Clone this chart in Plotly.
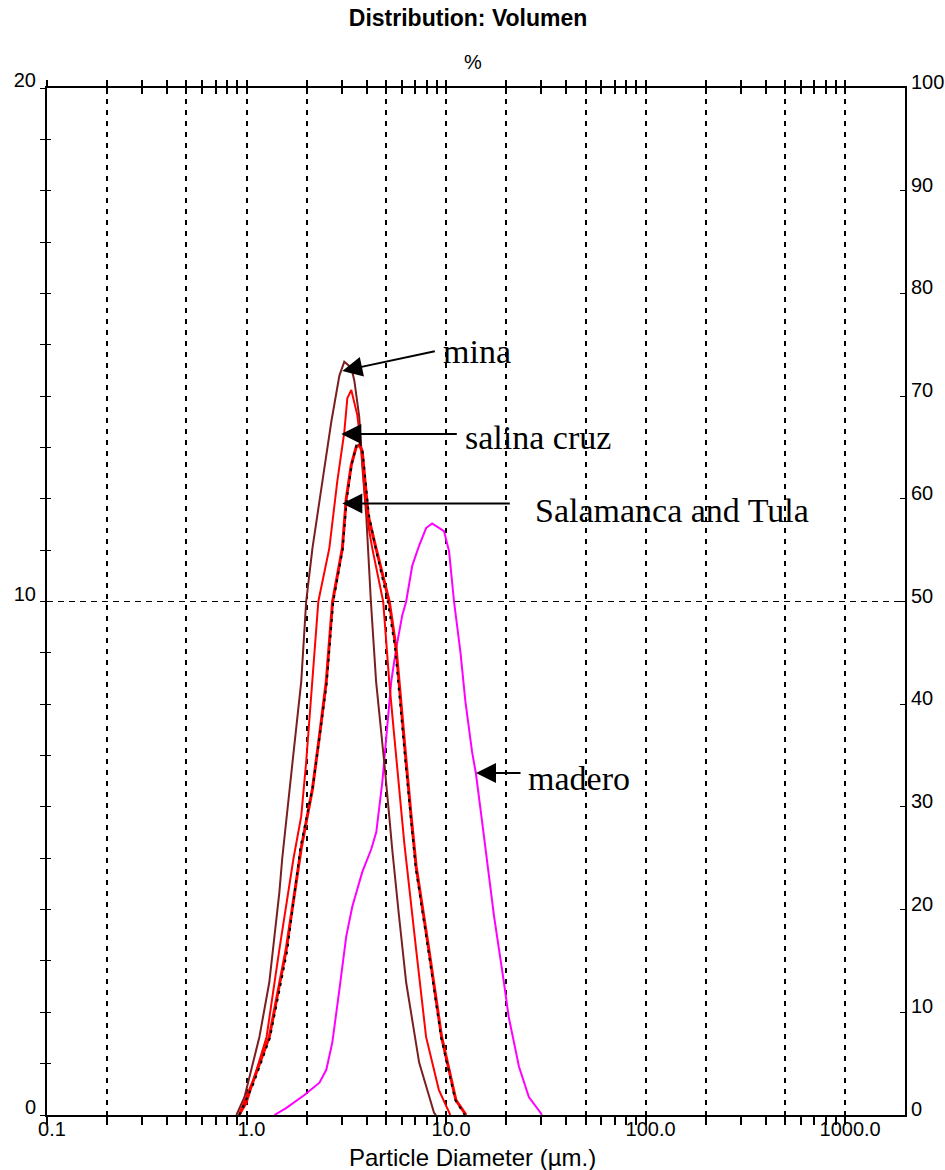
import math
import plotly.graph_objects as go

# ---------------- data (particle diameter in µm, volume %) ----------------
madero_d = [1.38, 1.585, 1.95, 2.32, 2.51, 2.69, 2.92, 3.16, 3.39, 3.80, 4.22, 4.47, 4.79, 5.01,
            5.31, 5.62, 6.03, 6.31, 6.77, 7.33, 7.94, 8.51, 9.22, 9.77, 10.35, 10.96, 11.8, 12.5,
            13.5, 14.1, 15.1, 15.8, 17.4, 19.5, 20.6, 23.2, 26.0, 29.8, 30.2]
madero_v = [0.0, 0.14, 0.39, 0.63, 0.88, 1.41, 2.44, 3.48, 4.06, 4.73, 5.18, 5.51, 6.48, 7.38,
            8.44, 9.08, 9.73, 10.0, 10.70, 11.09, 11.43, 11.52, 11.43, 11.37, 10.98, 10.0, 9.02, 8.05,
            7.07, 6.66, 5.76, 5.18, 3.87, 2.58, 1.91, 0.94, 0.35, 0.04, 0.0]

mina_d = [0.89, 0.977, 1.16, 1.30, 1.46, 1.51, 1.70, 1.88, 1.99, 2.14, 2.40, 2.66, 2.92, 3.09,
          3.35, 3.47, 3.67, 3.80, 3.98, 4.2, 4.46, 4.62, 4.90, 5.19, 5.37, 5.8, 6.31, 7.33, 8.71, 8.9]
mina_v = [0.0, 0.35, 1.52, 2.58, 4.33, 5.0, 6.87, 8.44, 10.0, 11.04, 12.34, 13.5, 14.4, 14.67,
          14.55, 14.3, 13.6, 12.66, 11.68, 10.0, 8.44, 7.9, 6.87, 5.82, 5.18, 3.9, 2.58, 1.02, 0.04, 0.0]

salina_d = [0.92, 1.0, 1.26, 1.46, 1.72, 1.88, 1.99, 2.14, 2.29, 2.60, 2.85, 3.09, 3.2, 3.35,
            3.59, 3.76, 3.93, 4.12, 4.27, 4.84, 5.19, 5.5, 5.82, 6.17, 7.08, 7.94, 9.2, 10.3, 10.5]
salina_v = [0.0, 0.23, 1.52, 3.22, 5.0, 5.82, 6.87, 8.44, 10.0, 11.04, 12.34, 13.3, 13.96, 14.12,
            13.63, 13.0, 12.0, 11.37, 11.03, 10.0, 8.44, 7.38, 6.35, 5.31, 3.22, 1.52, 0.49, 0.04, 0.0]

salamanca_d = [0.92, 1.07, 1.30, 1.58, 1.88, 2.14, 2.32, 2.51, 2.70, 3.02, 3.16, 3.35, 3.54, 3.67,
               3.80, 3.93, 4.07, 4.37, 5.19, 5.62, 5.96, 6.31, 6.68, 7.08, 8.2, 9.5, 11.2, 12.6]
salamanca_v = [0.0, 0.62, 1.52, 3.22, 5.2, 6.35, 7.38, 8.44, 10.0, 11.03, 12.0, 12.66, 13.0, 13.05,
               12.93, 12.34, 11.68, 11.17, 10.0, 9.08, 7.91, 6.87, 5.82, 4.84, 3.22, 1.52, 0.29, 0.0]

tula_d = [0.92, 1.08, 1.31, 1.6, 1.86, 2.15, 2.33, 2.52, 2.72, 3.03, 3.18, 3.38, 3.56, 3.7,
          3.82, 3.95, 4.1, 4.4, 5.1, 5.55, 5.9, 6.25, 6.65, 7.05, 8.15, 9.45, 11.1, 12.4]
tula_v = [0.0, 0.6, 1.5, 3.2, 5.2, 6.4, 7.4, 8.4, 10.0, 11.0, 12.0, 12.7, 13.05, 13.1,
          12.9, 12.3, 11.7, 11.1, 10.0, 9.1, 7.9, 6.9, 5.8, 4.8, 3.2, 1.5, 0.3, 0.0]

# tick labels
x_label_vals = [0.1, 1, 10, 100, 1000]
x_label_text = ["0.1", "1.0", "10.0", "100.0", "1000.0"]
x_grid_vals = [0.2, 0.5, 1, 2, 5, 10, 20, 50, 100, 200, 500, 1000]
y_left_labels = [0, 10, 20]
y_right_labels = [0, 10, 20, 30, 40, 50, 60, 70, 80, 90, 100]

# annotation labels and arrow tips (diameter, volume)
labels = ["mina", "salina cruz", "Salamanca and Tula", "madero"]
arrow_tip_d = [3.02, 2.985, 3.02, 14.13]
arrow_tip_v = [14.49, 13.26, 11.91, 6.66]

# ---------------- figure ----------------
W, H = 945, 1170
ML, MR, MT, MB = 47, 40, 88, 55
PW, PH = W - ML - MR, H - MT - MB


def px(xp):
    return (xp - ML) / PW


def py(yp):
    return (MT + PH - yp) / PH


FONT = "Liberation Sans, Arial, sans-serif"
SERIF = "Liberation Serif, Times New Roman, serif"

fig = go.Figure()

series = [
    (madero_d, madero_v, "#ff00ff", 2, "solid"),
    (mina_d, mina_v, "#7a1f1f", 2, "solid"),
    (salina_d, salina_v, "#ff0000", 2, "solid"),
    (salamanca_d, salamanca_v, "#ff0000", 3, "solid"),
    (tula_d, tula_v, "#000000", 2, "3px,5px"),
]
for d, v, c, w, dash in series:
    fig.add_trace(go.Scatter(x=d, y=v, mode="lines", line=dict(color=c, width=w, dash=dash),
                             showlegend=False, hoverinfo="skip"))

# empty traces to activate overlay axes
for xa, ya in [("x2", "y"), ("x3", "y"), ("x4", "y"), ("x5", "y"),
               ("x", "y2"), ("x", "y3"), ("x", "y4")]:
    fig.add_trace(go.Scatter(x=[], y=[], xaxis=xa, yaxis=ya, showlegend=False, hoverinfo="skip"))

x_ticks = [n * 10 ** k for k in range(-1, 4) for n in range(1, 10) if n * 10 ** k <= 1000]
x_ticks = [round(t, 6) for t in x_ticks]
XR = [-1, 3.30]

common_x = dict(type="log", range=XR, showgrid=False, zeroline=False, tickmode="array",
                tickcolor="black", tickwidth=1.5, automargin=False)

fig.update_layout(
    width=W, height=H,
    margin=dict(l=ML, r=MR, t=MT, b=MB, autoexpand=False),
    paper_bgcolor="white", plot_bgcolor="white",
    font=dict(family=FONT, size=20, color="black"),
    title=dict(text="<b>Distribution: Volumen</b>", x=px(472), xanchor="center",
               y=1 - 18 / H, yanchor="middle", yref="container",
               font=dict(family=FONT, size=23, color="black")),
    # bottom axis: tick marks
    xaxis=dict(**common_x, tickvals=x_ticks, showticklabels=False, ticks="outside", ticklen=8,
               showline=True, linecolor="black", linewidth=2),
    # bottom axis: labels only (right under the line)
    xaxis5=dict(**common_x, overlaying="x", side="bottom", anchor="y", tickvals=x_label_vals,
                ticktext=x_label_text, ticks="", ticklabelshift=5, tickfont=dict(size=20)),
    xaxis2=dict(**common_x, overlaying="x", side="top", anchor="y", tickvals=x_ticks,
                showticklabels=False, ticks="outside", ticklen=6, showline=True,
                linecolor="black", linewidth=2),
    xaxis3=dict(**common_x, overlaying="x", side="top", anchor="y", tickvals=x_ticks,
                showticklabels=False, ticks="inside", ticklen=6),
    xaxis4=dict(type="log", range=XR, overlaying="x", anchor="y", tickmode="array",
                tickvals=x_grid_vals, showticklabels=False, ticks="", showgrid=True,
                gridcolor="black", gridwidth=1.5, griddash="5px,6px", zeroline=False,
                automargin=False),
    yaxis=dict(range=[0, 20], tickmode="array", tickvals=list(range(0, 21)),
               ticktext=[str(t) if t in y_left_labels else "" for t in range(0, 21)],
               ticks="outside", ticklen=5, tickcolor="black", showgrid=False, zeroline=False,
               showline=True, linecolor="black", linewidth=2, ticklabelshift=-8,
               automargin=False),
    yaxis3=dict(range=[0, 20], overlaying="y", side="left", tickmode="array",
                tickvals=list(range(1, 20)), showticklabels=False, ticks="inside", ticklen=4,
                tickcolor="black", showgrid=False, zeroline=False, automargin=False),
    yaxis4=dict(range=[0, 20], overlaying="y", side="left", tickmode="array", tickvals=[10],
                showticklabels=False, ticks="", showgrid=True, gridcolor="black", gridwidth=1,
                griddash="6px,5px", zeroline=False, automargin=False),
    yaxis2=dict(range=[0, 100], overlaying="y", side="right", anchor="x", tickmode="array",
                tickvals=y_right_labels, ticktext=[str(t) for t in y_right_labels],
                ticks="inside", ticklen=5, tickcolor="black", showgrid=False, zeroline=False,
                showline=True, linecolor="black", linewidth=2, ticklabelshift=-6,
                ticklabelstandoff=0, automargin=False),
)

# white label boxes (cover gridlines behind the labels)
boxes = [(440, 318, 630, 362), (520, 398, 680, 448), (515, 463, 840, 549), (515, 743, 690, 815)]
for x0, y0, x1, y1 in boxes:
    fig.add_shape(type="rect", xref="paper", yref="paper", x0=px(x0), x1=px(x1),
                  y0=py(y1), y1=py(y0), fillcolor="white", line=dict(width=0), layer="between")

annos = []
# axis captions
annos.append(dict(text="%", xref="paper", yref="paper", x=px(473), y=py(62), showarrow=False,
                  font=dict(family=FONT, size=20), xanchor="center", yanchor="middle"))
annos.append(dict(text="Particle Diameter (µm.)", xref="paper", yref="paper", x=px(472),
                  y=py(1157), showarrow=False, font=dict(family=FONT, size=24),
                  xanchor="center", yanchor="middle"))

# label texts
text_pos = [(441, 351), (463, 438), (533, 511), (526, 778)]
for lab, (tx, ty) in zip(labels, text_pos):
    annos.append(dict(text=lab, xref="paper", yref="paper", x=px(tx), y=py(ty), showarrow=False,
                      font=dict(family=SERIF, size=34, color="black"),
                      xanchor="left", yanchor="middle"))

# arrows
arrow_tail = [(94, -20), (117, 0), (169, 0), (46, 0)]
for d, v, (ax, ay) in zip(arrow_tip_d, arrow_tip_v, arrow_tail):
    annos.append(dict(text="", x=math.log10(d), y=v, xref="x", yref="y",
                      showarrow=True, ax=ax, ay=ay, axref="pixel", ayref="pixel",
                      arrowhead=2, arrowsize=2, arrowwidth=2, arrowcolor="black", standoff=0))

fig.update_layout(annotations=annos)

fig.write_html("out.html")
